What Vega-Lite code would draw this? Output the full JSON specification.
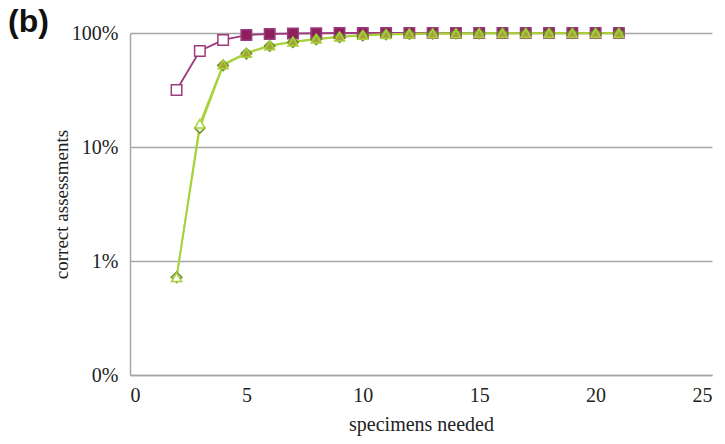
{
  "$schema": "https://vega.github.io/schema/vega-lite/v6.json",
  "width": 582,
  "height": 342,
  "autosize": "none",
  "padding": {"left": 130, "top": 33, "right": 13, "bottom": 69},
  "background": "white",
  "title": {"text": "(b)", "anchor": "start", "frame": "group", "orient": "top", "dx": -122, "dy": 41, "offset": 0, "baseline": "alphabetic", "font": "Liberation Sans", "fontWeight": "bold", "fontSize": 32, "color": "#111111"},
  "config": {"view": {"stroke": null}},
  "data": {"values": [
    {"series": "S", "x": 2, "y": 0.316, "state": "open"},
    {"series": "S", "x": 3, "y": 0.695, "state": "open"},
    {"series": "S", "x": 4, "y": 0.87, "state": "open"},
    {"series": "S", "x": 5, "y": 0.96, "state": "filled"},
    {"series": "S", "x": 6, "y": 0.98, "state": "filled"},
    {"series": "S", "x": 7, "y": 0.99, "state": "filled"},
    {"series": "S", "x": 8, "y": 0.995, "state": "filled"},
    {"series": "S", "x": 9, "y": 1.0, "state": "filled"},
    {"series": "S", "x": 10, "y": 1.0, "state": "filled"},
    {"series": "S", "x": 11, "y": 1.0, "state": "filled"},
    {"series": "S", "x": 12, "y": 1.0, "state": "filled"},
    {"series": "S", "x": 13, "y": 1.0, "state": "filled"},
    {"series": "S", "x": 14, "y": 1.0, "state": "filled"},
    {"series": "S", "x": 15, "y": 1.0, "state": "filled"},
    {"series": "S", "x": 16, "y": 1.0, "state": "filled"},
    {"series": "S", "x": 17, "y": 1.0, "state": "filled"},
    {"series": "S", "x": 18, "y": 1.0, "state": "filled"},
    {"series": "S", "x": 19, "y": 1.0, "state": "filled"},
    {"series": "S", "x": 20, "y": 1.0, "state": "filled"},
    {"series": "S", "x": 21, "y": 1.0, "state": "filled"},
    {"series": "D", "x": 2, "y": 0.0072, "state": "open"},
    {"series": "D", "x": 3, "y": 0.147, "state": "open"},
    {"series": "D", "x": 4, "y": 0.52, "state": "filled"},
    {"series": "D", "x": 5, "y": 0.66, "state": "filled"},
    {"series": "D", "x": 6, "y": 0.77, "state": "filled"},
    {"series": "D", "x": 7, "y": 0.83, "state": "filled"},
    {"series": "D", "x": 8, "y": 0.88, "state": "filled"},
    {"series": "D", "x": 9, "y": 0.92, "state": "filled"},
    {"series": "D", "x": 10, "y": 0.95, "state": "filled"},
    {"series": "D", "x": 11, "y": 0.97, "state": "filled"},
    {"series": "D", "x": 12, "y": 0.98, "state": "filled"},
    {"series": "D", "x": 13, "y": 0.985, "state": "filled"},
    {"series": "D", "x": 14, "y": 0.99, "state": "filled"},
    {"series": "D", "x": 15, "y": 0.99, "state": "filled"},
    {"series": "D", "x": 16, "y": 0.995, "state": "filled"},
    {"series": "D", "x": 17, "y": 0.995, "state": "filled"},
    {"series": "D", "x": 18, "y": 0.995, "state": "filled"},
    {"series": "D", "x": 19, "y": 0.995, "state": "filled"},
    {"series": "D", "x": 20, "y": 0.995, "state": "filled"},
    {"series": "D", "x": 21, "y": 0.995, "state": "filled"},
    {"series": "T", "x": 2, "y": 0.0072, "state": "open"},
    {"series": "T", "x": 3, "y": 0.16, "state": "open"},
    {"series": "T", "x": 4, "y": 0.53, "state": "filled"},
    {"series": "T", "x": 5, "y": 0.67, "state": "filled"},
    {"series": "T", "x": 6, "y": 0.78, "state": "filled"},
    {"series": "T", "x": 7, "y": 0.84, "state": "filled"},
    {"series": "T", "x": 8, "y": 0.89, "state": "filled"},
    {"series": "T", "x": 9, "y": 0.93, "state": "filled"},
    {"series": "T", "x": 10, "y": 0.96, "state": "filled"},
    {"series": "T", "x": 11, "y": 0.975, "state": "filled"},
    {"series": "T", "x": 12, "y": 0.985, "state": "filled"},
    {"series": "T", "x": 13, "y": 0.99, "state": "filled"},
    {"series": "T", "x": 14, "y": 0.99, "state": "filled"},
    {"series": "T", "x": 15, "y": 0.995, "state": "filled"},
    {"series": "T", "x": 16, "y": 0.995, "state": "filled"},
    {"series": "T", "x": 17, "y": 0.995, "state": "filled"},
    {"series": "T", "x": 18, "y": 0.995, "state": "filled"},
    {"series": "T", "x": 19, "y": 0.995, "state": "filled"},
    {"series": "T", "x": 20, "y": 0.995, "state": "filled"},
    {"series": "T", "x": 21, "y": 0.995, "state": "filled"}
  ]},
  "encoding": {
    "x": {"field": "x", "type": "quantitative",
      "scale": {"domain": [0, 25], "nice": false, "zero": false},
      "axis": {"values": [0, 5, 10, 15, 20, 25], "grid": false, "ticks": false, "domainColor": "#a6a6a6", "domainWidth": 1.5,
        "labelFont": "Times New Roman, Liberation Serif, DejaVu Serif, serif", "labelFontSize": 20, "labelColor": "#222222", "labelPadding": 10,
        "title": "specimens needed", "titleFont": "Times New Roman, Liberation Serif, DejaVu Serif, serif", "titleFontSize": 20, "titleFontWeight": "normal", "titleColor": "#222222", "titlePadding": 9}},
    "y": {"field": "y", "type": "quantitative",
      "scale": {"type": "log", "domain": [0.001, 1], "nice": false},
      "axis": {"values": [0.001, 0.01, 0.1, 1], "grid": true, "gridColor": "#a6a6a6", "gridWidth": 1.5, "ticks": false,
        "domainColor": "#a6a6a6", "domainWidth": 1.5,
        "labelExpr": "datum.value < 0.005 ? '0%' : format(datum.value, '.0%')",
        "labelFont": "Times New Roman, Liberation Serif, DejaVu Serif, serif", "labelFontSize": 20, "labelColor": "#222222", "labelPadding": 12,
        "title": "correct assessments", "titleFont": "Times New Roman, Liberation Serif, DejaVu Serif, serif", "titleFontSize": 19, "titleFontWeight": "normal", "titleColor": "#222222", "titlePadding": 0}}
  },
  "layer": [
    {"transform": [{"filter": "datum.series == 'S'"}], "mark": {"type": "line", "color": "#9b3a7e", "strokeWidth": 1.8}},
    {"transform": [{"filter": "datum.series != 'S'"}], "mark": {"type": "line", "color": "#a8d23c", "strokeWidth": 1.8}, "encoding": {"detail": {"field": "series"}}},
    {"transform": [{"filter": "datum.series == 'S'"}], "mark": {"type": "point", "shape": "square", "size": 110, "filled": false, "stroke": "#9b3a7e", "strokeWidth": 1.5, "opacity": 1},
      "encoding": {"fill": {"condition": {"test": "datum.state == 'open'", "value": "white"}, "value": "#8c1f5c"}}},
    {"transform": [{"filter": "datum.series == 'D'"}], "mark": {"type": "point", "shape": "diamond", "size": 110, "stroke": "#6f8a2a", "strokeWidth": 1.5, "opacity": 1},
      "encoding": {"fill": {"condition": {"test": "datum.state == 'open'", "value": "#e8f2c8"}, "value": "#98b43c"}}},
    {"transform": [{"filter": "datum.series == 'T'"}], "mark": {"type": "point", "shape": "triangle-up", "size": 100, "stroke": "#a8d23c", "strokeWidth": 1.5, "opacity": 1},
      "encoding": {"fill": {"condition": {"test": "datum.state == 'open'", "value": "white"}, "value": "#a4a43a"}}}
  ]
}
